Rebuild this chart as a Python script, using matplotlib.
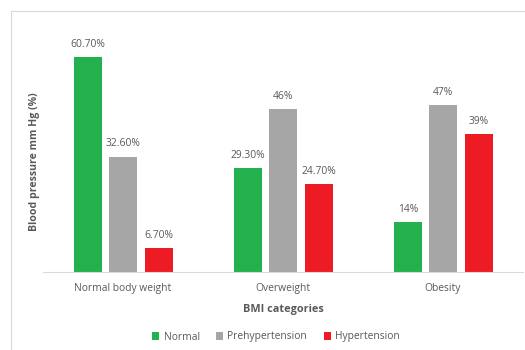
import numpy as np
import matplotlib.pyplot as plt
from matplotlib.patches import Rectangle

# data
categories = ['Normal body weight', 'Overweight', 'Obesity']
series_names = ['Normal', 'Prehypertension', 'Hypertension']
normal = [60.7, 29.3, 14]
prehyper = [32.6, 46, 47]
hyper = [6.7, 24.7, 39]
labels = [['60.70%', '29.30%', '14%'],
          ['32.60%', '46%', '47%'],
          ['6.70%', '24.70%', '39%']]

colors = ['#22B14C', '#A6A6A6', '#ED1C24']
text_col = '#595959'

plt.rcParams['font.family'] = ['Open Sans', 'DejaVu Sans']

fig = plt.figure(figsize=(5.25, 3.5), dpi=100)
ax = fig.add_axes([43/525, 1 - 272/350, 480/525, 248/350])

# chart frame (only left and top edges are visible in the crop)
fig.patches.append(Rectangle((11/525, -0.1), 1.2, 1 - 11/350 + 0.1,
                             transform=fig.transFigure, fill=False,
                             edgecolor='#D9D9D9', lw=0.8))

x = np.arange(len(categories))
width = 0.175
offsets = [-0.22, 0, 0.225]

for vals, lab, off, col, name in zip([normal, prehyper, hyper], labels,
                                     offsets, colors, series_names):
    bars = ax.bar(x + off, vals, width, color=col, label=name)
    for b, t in zip(bars, lab):
        ax.text(b.get_x() + b.get_width() / 2, b.get_height() + 2.0, t,
                ha='center', va='bottom', fontsize=7.4, color=text_col)

ax.set_xlim(-0.5, 2.5)
ax.set_ylim(0, 70)
ax.set_yticks([])
ax.set_xticks(x)
ax.set_xticklabels(categories, fontsize=7.4, color=text_col)
ax.tick_params(axis='x', length=0, pad=8)
for s in ['top', 'right', 'left']:
    ax.spines[s].set_visible(False)
ax.spines['bottom'].set_color('#D9D9D9')

ax.set_xlabel('BMI categories', fontsize=7.8, fontweight='bold',
              color=text_col, labelpad=7)
fig.text(35/525, 1 - 162/350, 'Blood pressure mm Hg (%)', rotation=90,
         ha='center', va='center', fontsize=7.6, fontweight='bold',
         color=text_col)

fig.legend(loc='center', bbox_to_anchor=(276/525, 1 - 337/350), ncol=3,
           frameon=False, fontsize=7.4, handlelength=0.7, handleheight=0.7,
           handletextpad=0.4, columnspacing=1.6, labelcolor=text_col)

fig.savefig('out.png', dpi=100)
